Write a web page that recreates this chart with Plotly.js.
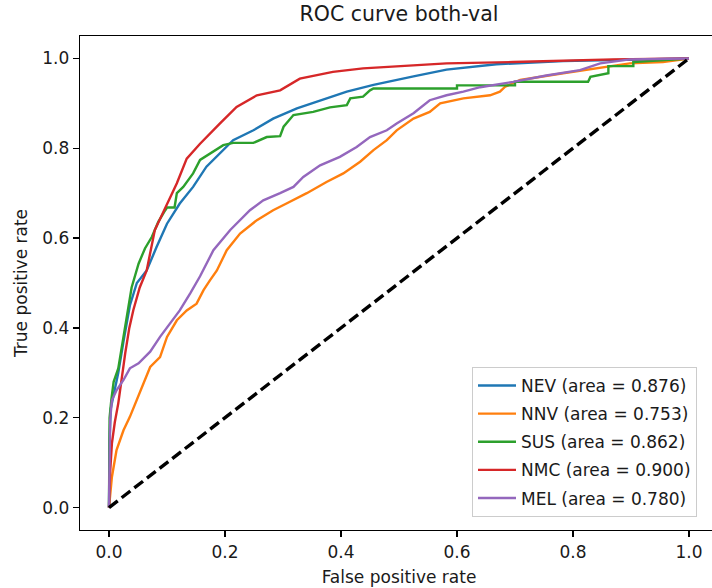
<!DOCTYPE html>
<html>
<head>
<meta charset="utf-8">
<script src="https://cdn.plot.ly/plotly-3.0.1.min.js"></script>
<style>
html,body{margin:0;padding:0;overflow:hidden;background:#fff;}
#chart{width:730px;height:588px;}
</style>
</head>
<body>
<div id="chart"></div>
<script>
// ---- data ----
const classNames = ["NEV", "NNV", "SUS", "NMC", "MEL"];
const aucValues = [0.876, 0.753, 0.862, 0.900, 0.780];

const nevFpr = [0,0.001,0.003,0.008,0.016,0.025,0.036,0.048,0.065,0.082,0.1,0.122,0.145,0.168,0.191,0.214,0.249,0.283,0.324,0.364,0.41,0.456,0.496,0.525,0.582,0.668,0.783,0.927,1];
const nevTpr = [0,0.15,0.22,0.25,0.3,0.37,0.45,0.5,0.528,0.58,0.632,0.677,0.714,0.759,0.788,0.818,0.84,0.866,0.889,0.907,0.926,0.941,0.953,0.96,0.975,0.987,0.994,0.998,1];

const nnvFpr = [0,0.002,0.005,0.013,0.025,0.036,0.048,0.059,0.071,0.088,0.1,0.117,0.134,0.151,0.163,0.174,0.186,0.203,0.226,0.255,0.283,0.306,0.341,0.375,0.404,0.433,0.456,0.479,0.496,0.525,0.553,0.571,0.611,0.657,0.674,0.683,0.709,0.783,0.841,0.898,0.955,1];
const nnvTpr = [0,0.03,0.068,0.128,0.172,0.202,0.239,0.276,0.313,0.335,0.38,0.417,0.439,0.454,0.484,0.506,0.528,0.573,0.61,0.64,0.662,0.677,0.70,0.725,0.744,0.77,0.796,0.818,0.84,0.866,0.881,0.9,0.911,0.918,0.926,0.937,0.952,0.967,0.978,0.989,0.992,1];

const susFpr = [0,0.001,0.004,0.008,0.016,0.025,0.036,0.039,0.051,0.062,0.074,0.085,0.097,0.1,0.113,0.117,0.128,0.145,0.157,0.174,0.197,0.214,0.249,0.272,0.295,0.301,0.318,0.352,0.381,0.41,0.416,0.438,0.45,0.456,0.6,0.6,0.70,0.70,0.826,0.83,0.861,0.861,0.904,0.904,1];
const susTpr = [0,0.2,0.24,0.28,0.31,0.38,0.47,0.49,0.543,0.577,0.603,0.636,0.662,0.668,0.668,0.70,0.714,0.744,0.774,0.788,0.807,0.812,0.812,0.825,0.827,0.848,0.874,0.881,0.891,0.896,0.911,0.915,0.929,0.933,0.933,0.94,0.94,0.948,0.948,0.959,0.967,0.983,0.983,0.992,1];

const nmcFpr = [0,0.002,0.005,0.01,0.016,0.022,0.028,0.035,0.042,0.053,0.065,0.079,0.1,0.117,0.134,0.157,0.191,0.22,0.255,0.295,0.329,0.386,0.438,0.496,0.582,0.697,0.869,1];
const nmcTpr = [0,0.08,0.143,0.19,0.232,0.29,0.344,0.4,0.44,0.49,0.528,0.618,0.677,0.722,0.777,0.81,0.855,0.892,0.918,0.929,0.955,0.970,0.978,0.983,0.989,0.992,0.998,1];

const melFpr = [0,0.001,0.002,0.005,0.013,0.025,0.036,0.051,0.071,0.088,0.105,0.122,0.14,0.157,0.18,0.209,0.243,0.266,0.295,0.318,0.335,0.364,0.398,0.427,0.45,0.479,0.496,0.525,0.553,0.582,0.611,0.64,0.697,0.754,0.812,0.847,0.898,1];
const melTpr = [0,0.1,0.195,0.239,0.261,0.284,0.31,0.321,0.347,0.38,0.41,0.439,0.477,0.515,0.573,0.618,0.662,0.684,0.70,0.714,0.736,0.762,0.781,0.803,0.825,0.84,0.855,0.878,0.907,0.918,0.926,0.936,0.948,0.962,0.974,0.989,0.998,1];

const chanceX = [0, 1];
const chanceY = [0, 1];

const tickVals = [0, 0.2, 0.4, 0.6, 0.8, 1.0];
const tickText = ["0.0", "0.2", "0.4", "0.6", "0.8", "1.0"];

// ---- build ----
const colors = ["#1f77b4", "#ff7f0e", "#2ca02c", "#d62728", "#9467bd"];
const xs = [nevFpr, nnvFpr, susFpr, nmcFpr, melFpr];
const ys = [nevTpr, nnvTpr, susTpr, nmcTpr, melTpr];

const traces = classNames.map((n, i) => ({
  x: xs[i], y: ys[i], type: "scatter", mode: "lines",
  name: n + " (area = " + aucValues[i].toFixed(3) + ")",
  line: {color: colors[i], width: 2.4},
  legendgroup: "g" + i
}));
traces.push({
  x: chanceX, y: chanceY, type: "scatter", mode: "lines",
  line: {color: "#000", width: 3.4, dash: "11px,5px"},
  showlegend: false, hoverinfo: "skip"
});

const font = "DejaVu Sans, sans-serif";
const txt = "#1a1a1a";
const axisCommon = {
  range: [-0.05, 1.05],
  tickvals: tickVals, ticktext: tickText,
  ticks: "outside", ticklen: 6, tickwidth: 1.3, tickcolor: "#000",
  showline: true, linecolor: "#000", linewidth: 1.3, mirror: true,
  showgrid: false, zeroline: false,
  tickfont: {family: font, size: 17, color: txt}
};

const layout = {
  width: 730, height: 588,
  margin: {l: 80, r: 12, t: 36, b: 58},
  paper_bgcolor: "#fff", plot_bgcolor: "#fff",
  font: {family: font, color: txt},
  title: {text: "ROC curve both-val", font: {family: font, size: 20.5, color: txt},
          xref: "paper", x: 0.5, xanchor: "center",
          yref: "container", y: 1 - 14/588, yanchor: "middle"},
  xaxis: Object.assign({}, axisCommon, {
    title: {text: "False positive rate", font: {family: font, size: 17, color: txt}, standoff: 10}
  }),
  yaxis: Object.assign({}, axisCommon, {
    title: {text: "True positive rate", font: {family: font, size: 17, color: txt}, standoff: 10}
  }),
  legend: {
    x: (697 - 80) / 638, y: (530 - 517) / 494, xanchor: "right", yanchor: "bottom",
    bgcolor: "rgba(255,255,255,0.8)", bordercolor: "#cccccc", borderwidth: 1,
    font: {family: font, size: 17, color: txt},
    traceorder: "grouped", tracegroupgap: 3, itemwidth: 38
  },
  showlegend: true
};

Plotly.newPlot("chart", traces, layout, {displayModeBar: false, staticPlot: true});
</script>
</body>
</html>
